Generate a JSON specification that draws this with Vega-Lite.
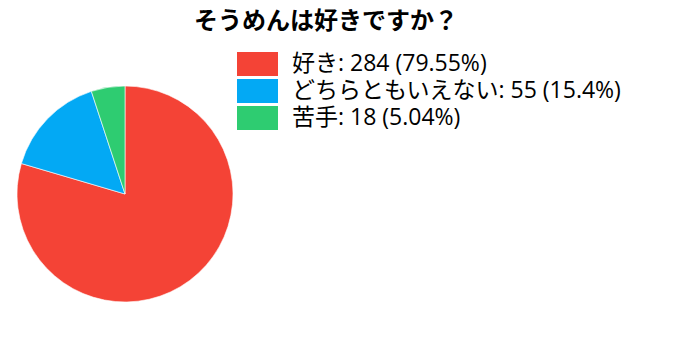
{
  "$schema": "https://vega.github.io/schema/vega-lite/v6.json",
  "autosize": "none",
  "width": 216,
  "height": 216,
  "padding": {"left": 17, "top": 86, "right": 447, "bottom": 38},
  "background": "white",
  "title": {
    "text": "そうめんは好きですか？",
    "font": "Noto Sans CJK JP",
    "fontSize": 24,
    "fontWeight": "bold",
    "color": "#000",
    "anchor": "middle",
    "dx": 201,
    "offset": 18
  },
  "data": {
    "values": [
      {"label": "好き: 284 (79.55%)", "value": 284, "order": 1},
      {"label": "どちらともいえない: 55 (15.4%)", "value": 55, "order": 2},
      {"label": "苦手: 18 (5.04%)", "value": 18, "order": 3}
    ]
  },
  "mark": {"type": "arc", "stroke": "#ffffff", "strokeWidth": 0.6},
  "encoding": {
    "theta": {"field": "value", "type": "quantitative", "stack": true},
    "order": {"field": "order", "type": "quantitative"},
    "color": {
      "field": "label",
      "type": "nominal",
      "sort": null,
      "scale": {
        "domain": ["好き: 284 (79.55%)", "どちらともいえない: 55 (15.4%)", "苦手: 18 (5.04%)"],
        "range": ["#f44336", "#03a9f4", "#2ecc71"]
      },
      "legend": {
        "title": null,
        "orient": "none",
        "legendX": 220,
        "legendY": -34,
        "symbolType": "M-1,-0.58H1V0.58H-1Z",
        "symbolSize": 1681,
        "clipHeight": 24,
        "symbolStrokeWidth": 0,
        "symbolOpacity": 1,
        "labelFont": "Open Sans, Noto Sans CJK JP",
        "labelFontSize": 23,
        "labelColor": "#000",
        "labelOffset": 14,
        "labelLimit": 500,
        "rowPadding": 3,
        "padding": 0
      }
    }
  }
}
